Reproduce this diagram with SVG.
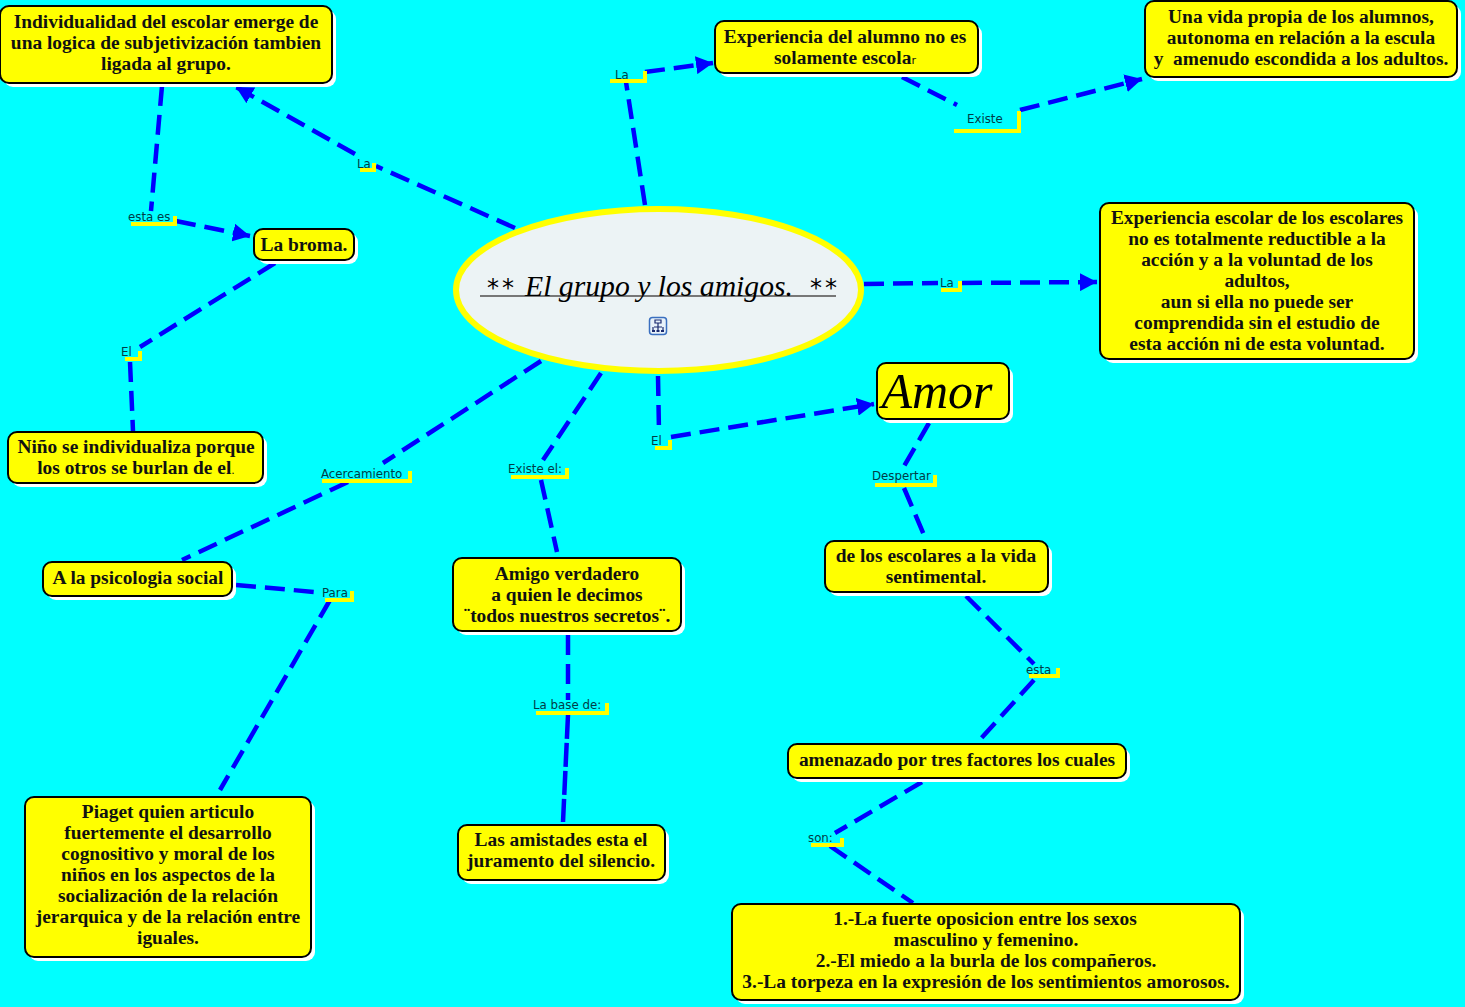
<svg xmlns="http://www.w3.org/2000/svg" width="1465" height="1007" viewBox="0 0 1465 1007">
<style>
.n{fill:#ff0;stroke:#000;stroke-width:2}
.s{fill:#fff}
.t{font-family:"Liberation Serif",serif;font-weight:bold;font-size:19.4px;fill:#111;text-anchor:middle}
.l{font-family:"DejaVu Sans",sans-serif;font-size:11.800px;fill:#003c46}
.u{fill:none;stroke:#ff0;stroke-width:4}
.c{fill:none;stroke:#00f;stroke-width:4.500;stroke-dasharray:20 9}
.a{fill:none;stroke:#00f;stroke-width:4.500;stroke-dasharray:20 9;marker-end:url(#ah)}
.d{stroke-dasharray:24 4}
.sc{font-family:"Liberation Serif",serif;font-style:italic;fill:#000}
.st{font-family:"DejaVu Sans",sans-serif;font-size:24px;letter-spacing:3px;fill:#000}
</style>
<defs>
<marker id="ah" markerUnits="userSpaceOnUse" markerWidth="18" markerHeight="18" refX="17" refY="9" orient="auto"><path d="M0 0L17 9L0 18Z" fill="#00f"/></marker>
</defs>
<rect width="1465" height="1007" fill="#0ff"/>
<g id="connectors">
<path class="c" d="M515 228L376 166"/>
<path class="a" d="M355 154L236 87"/>
<path class="c" d="M162 86L151 211"/>
<path class="a" d="M176 221L250 236"/>
<path class="c" d="M275 263L140 347"/>
<path class="c" d="M130 362L133 431"/>
<path class="c" d="M645 205L626 82"/>
<path class="a" d="M645 72L713 63"/>
<path class="c" d="M902 77L957 105"/>
<path class="a" d="M1020 110L1142 79"/>
<path class="c" d="M864 284L938 283"/>
<path class="a" d="M962 283L1097 282"/>
<path class="c" d="M658 376L659 432"/>
<path class="a" d="M671 437L874 404"/>
<path class="c" d="M929 423L903 468"/>
<path class="c" d="M904 488L924 535"/>
<path class="c" d="M966 596L1034 664"/>
<path class="c" d="M1034 680L977 743"/>
<path class="c" d="M922 782L835 833"/>
<path class="c" d="M830 846L913 903"/>
<path class="c" d="M601 373L543 460"/>
<path class="c" d="M541 480L557 552"/>
<path class="c" d="M568 635L568 700"/>
<path class="c d" d="M568 715L563 822"/>
<path class="c" d="M541 361L383 463"/>
<path class="c" d="M348 482L182 560"/>
<path class="c" d="M236 585L315 592"/>
<path class="c" d="M330 600L220 790"/>
</g>
<g id="labels">
<g id="lb-la-left"><path class="u" d="M360 170H374V163"/><text class="l" x="357" y="168">La</text></g>
<g id="lb-estaes"><path class="u" d="M131 224H175V216"/><text class="l" x="128" y="221">esta es</text></g>
<g id="lb-el-left"><path class="u" d="M125 359H140V351"/><text class="l" x="121" y="356">El</text></g>
<g id="lb-la-top"><path class="u" d="M610 81H645V71"/><text class="l" x="615" y="79">La</text></g>
<g id="lb-existe"><path class="u" d="M954 131H1019V111"/><text class="l" x="967" y="123">Existe</text></g>
<g id="lb-la-right"><path class="u" d="M941 290H960V281"/><text class="l" x="940" y="287">La</text></g>
<g id="lb-el-bottom"><path class="u" d="M655 448H670V440"/><text class="l" x="651" y="445">El</text></g>
<g id="lb-despertar"><path class="u" d="M875 485H935V475"/><text class="l" x="872" y="480">Despertar</text></g>
<g id="lb-esta"><path class="u" d="M1029 676H1058V668"/><text class="l" x="1026" y="674">esta</text></g>
<g id="lb-son"><path class="u" d="M811 845H842V838"/><text class="l" x="808" y="842">son:</text></g>
<g id="lb-existeel"><path class="u" d="M511 477H567V468"/><text class="l" x="508" y="473">Existe el:</text></g>
<g id="lb-acerc"><path class="u" d="M322 481H410V471"/><text class="l" x="321" y="478">Acercamiento</text></g>
<g id="lb-para"><path class="u" d="M325 600H352V591"/><text class="l" x="322" y="597">Para</text></g>
<g id="lb-base"><path class="u" d="M536 713H607V703"/><text class="l" x="533" y="709">La base de:</text></g>
</g>
<g id="center">
<ellipse cx="658.5" cy="290" rx="202.500" ry="81" fill="#ecf3f5" stroke="#ff0" stroke-width="6"/>
<path d="M480 296H836" stroke="#777" stroke-width="2"/>
<text class="st" x="487" y="296">**</text>
<text class="sc" x="525" y="296" font-size="29.700">El grupo y los amigos.</text>
<text class="st" x="810" y="296">**</text>
<rect x="649.500" y="317.500" width="17" height="17" rx="3" fill="#e8f2fa" stroke="#3a6fc0" stroke-width="1.500"/>
<path d="M655 320H661V323H655ZM658 323V330M654 327H662M653 327V330M663 327V330" fill="none" stroke="#1a2a70" stroke-width="1.200"/>
<path d="M652 330H655V332H652ZM656.500 330H659.500V332H656.500ZM661 330H664V332H661Z" fill="#1a2a70"/>
</g>
<g id="n1"><rect class="s" x="4" y="10" width="332" height="77" rx="9"/><rect class="n" x="0" y="6" width="332" height="77" rx="9"/>
<text class="t" x="166" y="28">Individualidad del escolar emerge de</text><text class="t" x="166" y="49">una logica de subjetivización tambien</text><text class="t" x="166" y="70">ligada al grupo.</text></g>
<g id="n2"><rect class="s" x="719" y="25" width="263" height="52" rx="9"/><rect class="n" x="715" y="21" width="263" height="52" rx="9"/>
<text class="t" x="845" y="43">Experiencia del alumno no es</text><text class="t" x="845" y="64">solamente escola<tspan font-family="'DejaVu Sans',sans-serif" font-size="11" font-weight="normal">r</tspan></text></g>
<g id="n3"><rect class="s" x="1149" y="5" width="312" height="76" rx="9"/><rect class="n" x="1145" y="1" width="312" height="76" rx="9"/>
<text class="t" x="1301" y="23">Una vida propia de los alumnos,</text><text class="t" x="1301" y="44">autonoma en relación a la escula</text><text class="t" x="1301" y="65">y&#160; amenudo escondida a los adultos.</text></g>
<g id="n4"><rect class="s" x="1104" y="207" width="314" height="156" rx="9"/><rect class="n" x="1100" y="203" width="314" height="156" rx="9"/>
<text class="t" x="1257" y="224">Experiencia escolar de los escolares</text><text class="t" x="1257" y="245">no es totalmente reductible a la</text><text class="t" x="1257" y="266">acción y a la voluntad de los</text><text class="t" x="1257" y="287">adultos,</text><text class="t" x="1257" y="308">aun si ella no puede ser</text><text class="t" x="1257" y="329">comprendida sin el estudio de</text><text class="t" x="1257" y="350">esta acción ni de esta voluntad.</text></g>
<g id="n5"><rect class="s" x="881" y="367" width="132" height="56" rx="9"/><rect class="n" x="877" y="363" width="132" height="56" rx="9"/>
<text class="sc" x="937" y="408" font-size="50" text-anchor="middle">Amor</text></g>
<g id="n6"><rect class="s" x="258" y="233" width="100" height="31" rx="9"/><rect class="n" x="254" y="229" width="100" height="31" rx="9"/>
<text class="t" x="304" y="251">La broma.</text></g>
<g id="n7"><rect class="s" x="12" y="436" width="255" height="51" rx="9"/><rect class="n" x="8" y="432" width="255" height="51" rx="9"/>
<text class="t" x="136" y="453">Niño se individualiza porque</text><text class="t" x="136" y="474">los otros se burlan de el<tspan font-family="'DejaVu Sans',sans-serif" font-size="11" font-weight="normal">.</tspan></text></g>
<g id="n8"><rect class="s" x="47" y="566" width="189" height="34" rx="9"/><rect class="n" x="43" y="562" width="189" height="34" rx="9"/>
<text class="t" x="138" y="584">A la psicologia social</text></g>
<g id="n9"><rect class="s" x="457" y="562" width="228" height="73" rx="9"/><rect class="n" x="453" y="558" width="228" height="73" rx="9"/>
<text class="t" x="567" y="580">Amigo verdadero</text><text class="t" x="567" y="601">a quien le decimos</text><text class="t" x="567" y="622">¨todos nuestros secretos¨.</text></g>
<g id="n10"><rect class="s" x="829" y="545" width="223" height="51" rx="9"/><rect class="n" x="825" y="541" width="223" height="51" rx="9"/>
<text class="t" x="936" y="562">de los escolares a la vida</text><text class="t" x="936" y="583">sentimental.</text></g>
<g id="n11"><rect class="s" x="792" y="748" width="338" height="34" rx="9"/><rect class="n" x="788" y="744" width="338" height="34" rx="9"/>
<text class="t" x="957" y="766">amenazado por tres factores los cuales</text></g>
<g id="n12"><rect class="s" x="462" y="829" width="207" height="55" rx="9"/><rect class="n" x="458" y="825" width="207" height="55" rx="9"/>
<text class="t" x="561" y="846">Las amistades esta el</text><text class="t" x="561" y="867">juramento del silencio.</text></g>
<g id="n13"><rect class="s" x="29" y="801" width="286" height="160" rx="9"/><rect class="n" x="25" y="797" width="286" height="160" rx="9"/>
<text class="t" x="168" y="818">Piaget quien articulo</text><text class="t" x="168" y="839">fuertemente el desarrollo</text><text class="t" x="168" y="860">cognositivo y moral de los</text><text class="t" x="168" y="881">niños en los aspectos de la</text><text class="t" x="168" y="902">socialización de la relación</text><text class="t" x="168" y="923">jerarquica y de la relación entre</text><text class="t" x="168" y="944">iguales.</text></g>
<g id="n14"><rect class="s" x="736" y="908" width="508" height="96" rx="9"/><rect class="n" x="732" y="904" width="508" height="96" rx="9"/>
<text class="t" x="985" y="925">1.-La fuerte oposicion entre los sexos</text><text class="t" x="986" y="946">masculino y femenino.</text><text class="t" x="986" y="967">2.-El miedo a la burla de los compañeros.</text><text class="t" x="986" y="988">3.-La torpeza en la expresión de los sentimientos amorosos.</text></g>
</svg>
